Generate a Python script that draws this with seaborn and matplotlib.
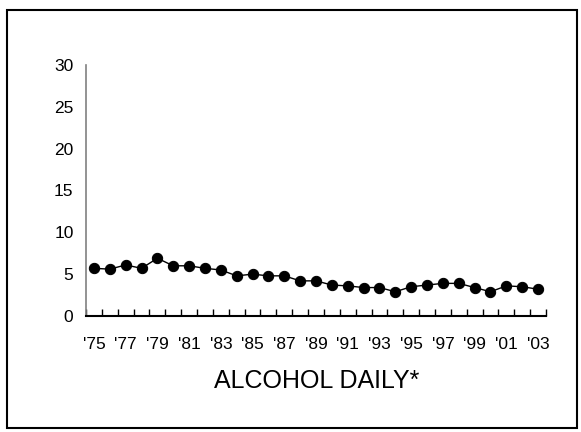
import matplotlib
matplotlib.use("Agg")
import matplotlib.pyplot as plt
import seaborn as sns
import numpy as np
import pandas as pd
from matplotlib.patches import Rectangle

years = list(range(1975, 2004))
values = [5.7, 5.6, 6.1, 5.7, 6.9, 6.0, 6.0, 5.7, 5.5, 4.8, 5.0, 4.8, 4.8, 4.2, 4.2,
          3.7, 3.6, 3.4, 3.4, 2.9, 3.5, 3.7, 3.9, 3.9, 3.4, 2.9, 3.6, 3.5, 3.2]
year_labels = ["'" + str(y)[-2:] for y in years]
title = "ALCOHOL DAILY*"
y_ticks = [0, 5, 10, 15, 20, 25, 30]

sns.set_theme(style="white")
plt.rcParams['font.family'] = ['Liberation Sans', 'DejaVu Sans']

df = pd.DataFrame({"pos": np.arange(len(years)), "value": values})

fig = plt.figure(figsize=(5.81, 4.32), dpi=100)
ax = fig.add_axes([86/581, 1-316/432, (546-86)/581, (316-65)/432])

sns.lineplot(data=df, x="pos", y="value", ax=ax, color="black", linewidth=1,
             marker="o", markersize=7.4, markeredgecolor="black", markerfacecolor="black")

ax.set_xlim(-0.5, len(years) - 0.5)
ax.set_ylim(0, 30)
ax.set_yticks(y_ticks)
ax.set_yticklabels([str(t) for t in y_ticks], fontsize=12.5, color="black")
ax.tick_params(axis="y", direction="in", length=4, width=1, color="#808080", pad=9)

major = np.arange(0, len(years), 2)
ax.set_xticks(major)
ax.set_xticklabels([year_labels[i] for i in major], fontsize=12.5, color="black")
ax.set_xticks(np.arange(-0.5, len(years) + 0.5, 1), minor=True)
ax.tick_params(axis="x", which="major", length=0, pad=15)
ax.tick_params(axis="x", which="minor", direction="in", length=5, width=1, color="black", bottom=True)

ax.set_xlabel("")
ax.set_ylabel("")
for s in ["top", "right"]:
    ax.spines[s].set_visible(False)
ax.spines["left"].set_color("#808080")
ax.spines["left"].set_linewidth(1.2)
ax.spines["bottom"].set_color("black")
ax.spines["bottom"].set_linewidth(1.5)

fig.text(317/581, 1-381/432, title, ha="center", va="center", fontsize=18, color="black")

fig.patches.append(Rectangle((7/581, 1-428/432), (577-7)/581, (428-10)/432,
                             transform=fig.transFigure, fill=False,
                             edgecolor="black", linewidth=1.5))

fig.savefig("out.png", dpi=100)
